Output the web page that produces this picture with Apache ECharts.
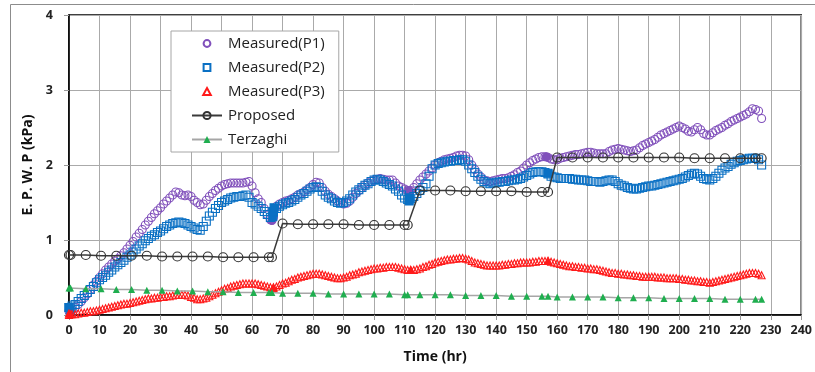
<!DOCTYPE html>
<html>
<head>
<meta charset="utf-8">
<script src="https://cdn.jsdelivr.net/npm/echarts@6/dist/echarts.min.js"></script>
<style>
  html, body { margin: 0; padding: 0; background: #fff; }
  #chart { width: 815px; height: 372px; }
</style>
</head>
<body>
<div id="chart"></div>
<script>
// Measured excess pore water pressure, read hourly
const measuredHours = [
  0, 1, 2, 3, 4, 5, 6, 7, 8, 9,
  10, 11, 12, 13, 14, 15, 16, 17, 18, 19,
  20, 21, 22, 23, 24, 25, 26, 27, 28, 29,
  30, 31, 32, 33, 34, 35, 36, 37, 38, 39,
  40, 41, 42, 43, 44, 45, 46, 47, 48, 49,
  50, 51, 52, 53, 54, 55, 56, 57, 58, 59,
  60, 61, 62, 63, 64, 65, 66, 67, 68, 69,
  70, 71, 72, 73, 74, 75, 76, 77, 78, 79,
  80, 81, 82, 83, 84, 85, 86, 87, 88, 89,
  90, 91, 92, 93, 94, 95, 96, 97, 98, 99,
  100, 101, 102, 103, 104, 105, 106, 107, 108, 109,
  110, 111, 112, 113, 114, 115, 116, 117, 118, 119,
  120, 121, 122, 123, 124, 125, 126, 127, 128, 129,
  130, 131, 132, 133, 134, 135, 136, 137, 138, 139,
  140, 141, 142, 143, 144, 145, 146, 147, 148, 149,
  150, 151, 152, 153, 154, 155, 156, 157, 158, 159,
  160, 161, 162, 163, 164, 165, 166, 167, 168, 169,
  170, 171, 172, 173, 174, 175, 176, 177, 178, 179,
  180, 181, 182, 183, 184, 185, 186, 187, 188, 189,
  190, 191, 192, 193, 194, 195, 196, 197, 198, 199,
  200, 201, 202, 203, 204, 205, 206, 207, 208, 209,
  210, 211, 212, 213, 214, 215, 216, 217, 218, 219,
  220, 221, 222, 223, 224, 225, 226, 227
];

const p1Values = [
  0.05, 0.07, 0.10, 0.14, 0.18, 0.23, 0.28, 0.34, 0.40, 0.45,
  0.50, 0.55, 0.60, 0.64, 0.68, 0.72, 0.75, 0.79, 0.83, 0.88,
  0.93, 0.98, 1.04, 1.09, 1.14, 1.20, 1.25, 1.30, 1.35, 1.39,
  1.43, 1.48, 1.52, 1.56, 1.60, 1.64, 1.63, 1.60, 1.59, 1.60,
  1.58, 1.53, 1.50, 1.47, 1.48, 1.53, 1.58, 1.62, 1.66, 1.69,
  1.72, 1.74, 1.75, 1.76, 1.76, 1.76, 1.76, 1.76, 1.77, 1.78,
  1.72, 1.63, 1.55, 1.50, 1.42, 1.34, 1.27, 1.30, 1.45, 1.48,
  1.50, 1.52, 1.53, 1.55, 1.57, 1.60, 1.62, 1.64, 1.67, 1.70,
  1.74, 1.77, 1.76, 1.70, 1.65, 1.61, 1.58, 1.55, 1.52, 1.50,
  1.48, 1.49, 1.52, 1.57, 1.62, 1.66, 1.70, 1.73, 1.76, 1.78,
  1.80, 1.81, 1.82, 1.81, 1.80, 1.80, 1.80, 1.76, 1.72, 1.70,
  1.68, 1.66, 1.66, 1.70, 1.75, 1.80, 1.84, 1.88, 1.92, 1.96,
  2.00, 2.03, 2.05, 2.07, 2.08, 2.09, 2.10, 2.12, 2.13, 2.13,
  2.12, 2.07, 2.00, 1.94, 1.88, 1.84, 1.80, 1.79, 1.78, 1.79,
  1.80, 1.81, 1.82, 1.82, 1.83, 1.85, 1.87, 1.90, 1.92, 1.96,
  2.00, 2.03, 2.06, 2.08, 2.10, 2.11, 2.11, 2.10, 2.08, 2.07,
  2.07, 2.09, 2.10, 2.11, 2.12, 2.13, 2.14, 2.14, 2.15, 2.16,
  2.17, 2.17, 2.16, 2.15, 2.15, 2.15, 2.15, 2.18, 2.20, 2.21,
  2.22, 2.21, 2.20, 2.19, 2.18, 2.19, 2.20, 2.23, 2.26, 2.28,
  2.30, 2.32, 2.34, 2.37, 2.40, 2.42, 2.44, 2.46, 2.48, 2.50,
  2.52, 2.50, 2.48, 2.45, 2.44, 2.47, 2.50, 2.47, 2.42, 2.40,
  2.40, 2.43, 2.46, 2.48, 2.50, 2.53, 2.55, 2.58, 2.60, 2.62,
  2.64, 2.66, 2.68, 2.71, 2.75, 2.74, 2.72, 2.62
];

const p2Values = [
  0.10, 0.12, 0.14, 0.18, 0.22, 0.26, 0.30, 0.34, 0.38, 0.43,
  0.47, 0.50, 0.53, 0.57, 0.60, 0.64, 0.67, 0.70, 0.73, 0.77,
  0.80, 0.84, 0.88, 0.92, 0.95, 0.99, 1.02, 1.05, 1.07, 1.10,
  1.12, 1.15, 1.18, 1.20, 1.22, 1.23, 1.24, 1.23, 1.22, 1.20,
  1.18, 1.16, 1.14, 1.13, 1.18, 1.25, 1.32, 1.37, 1.42, 1.46,
  1.50, 1.52, 1.54, 1.56, 1.57, 1.58, 1.58, 1.59, 1.60, 1.57,
  1.50, 1.48, 1.45, 1.42, 1.38, 1.34, 1.30, 1.38, 1.42, 1.45,
  1.47, 1.49, 1.50, 1.52, 1.54, 1.57, 1.60, 1.62, 1.65, 1.68,
  1.70, 1.71, 1.70, 1.65, 1.60, 1.57, 1.55, 1.52, 1.50, 1.49,
  1.50, 1.52, 1.55, 1.60, 1.64, 1.67, 1.70, 1.73, 1.75, 1.78,
  1.80, 1.81, 1.80, 1.78, 1.76, 1.74, 1.72, 1.68, 1.65, 1.60,
  1.56, 1.54, 1.55, 1.58, 1.62, 1.66, 1.70, 1.75, 1.85, 1.95,
  2.00, 2.02, 2.03, 2.04, 2.05, 2.05, 2.06, 2.06, 2.07, 2.07,
  2.05, 2.00, 1.95, 1.90, 1.85, 1.81, 1.78, 1.76, 1.75, 1.76,
  1.77, 1.77, 1.78, 1.78, 1.79, 1.80, 1.80, 1.81, 1.82, 1.84,
  1.86, 1.88, 1.90, 1.91, 1.91, 1.91, 1.90, 1.88, 1.85, 1.84,
  1.83, 1.82, 1.82, 1.82, 1.82, 1.81, 1.81, 1.80, 1.80, 1.80,
  1.79, 1.78, 1.78, 1.78, 1.77, 1.78, 1.79, 1.80, 1.80, 1.78,
  1.75, 1.73, 1.72, 1.70, 1.69, 1.68, 1.68, 1.69, 1.70, 1.71,
  1.72, 1.72, 1.73, 1.74, 1.75, 1.76, 1.77, 1.78, 1.79, 1.80,
  1.81, 1.82, 1.84, 1.86, 1.88, 1.89, 1.88, 1.85, 1.82, 1.81,
  1.80, 1.82, 1.85, 1.89, 1.93, 1.96, 1.98, 2.01, 2.03, 2.05,
  2.06, 2.07, 2.08, 2.09, 2.09, 2.09, 2.07, 2.00
];

const p3Values = [
  0.00, 0.01, 0.01, 0.02, 0.03, 0.03, 0.04, 0.05, 0.05, 0.06,
  0.07, 0.08, 0.09, 0.10, 0.11, 0.12, 0.13, 0.14, 0.15, 0.15,
  0.16, 0.17, 0.18, 0.19, 0.20, 0.21, 0.22, 0.22, 0.23, 0.23,
  0.24, 0.24, 0.25, 0.25, 0.26, 0.27, 0.27, 0.27, 0.27, 0.26,
  0.24, 0.23, 0.21, 0.21, 0.22, 0.23, 0.25, 0.27, 0.29, 0.31,
  0.33, 0.35, 0.36, 0.38, 0.39, 0.40, 0.41, 0.42, 0.42, 0.42,
  0.42, 0.42, 0.41, 0.40, 0.39, 0.38, 0.37, 0.37, 0.38, 0.40,
  0.42, 0.43, 0.45, 0.47, 0.48, 0.50, 0.51, 0.52, 0.53, 0.54,
  0.55, 0.55, 0.55, 0.54, 0.53, 0.52, 0.51, 0.50, 0.49, 0.49,
  0.50, 0.51, 0.53, 0.54, 0.55, 0.57, 0.58, 0.59, 0.60, 0.61,
  0.62, 0.62, 0.63, 0.63, 0.64, 0.64, 0.64, 0.64, 0.63, 0.62,
  0.61, 0.60, 0.60, 0.60, 0.61, 0.62, 0.64, 0.65, 0.67, 0.68,
  0.70, 0.71, 0.72, 0.73, 0.74, 0.74, 0.75, 0.75, 0.76, 0.76,
  0.75, 0.74, 0.72, 0.70, 0.69, 0.68, 0.67, 0.66, 0.66, 0.66,
  0.66, 0.66, 0.67, 0.67, 0.68, 0.68, 0.69, 0.69, 0.70, 0.70,
  0.70, 0.70, 0.71, 0.71, 0.72, 0.72, 0.72, 0.72, 0.71, 0.70,
  0.69, 0.68, 0.67, 0.66, 0.65, 0.65, 0.64, 0.64, 0.63, 0.63,
  0.62, 0.62, 0.61, 0.61, 0.60, 0.59, 0.58, 0.57, 0.56, 0.56,
  0.55, 0.55, 0.54, 0.54, 0.53, 0.53, 0.52, 0.52, 0.51, 0.51,
  0.51, 0.51, 0.51, 0.50, 0.50, 0.50, 0.49, 0.49, 0.49, 0.49,
  0.48, 0.48, 0.47, 0.47, 0.46, 0.46, 0.45, 0.45, 0.44, 0.44,
  0.43, 0.44, 0.45, 0.46, 0.47, 0.48, 0.49, 0.50, 0.51, 0.52,
  0.53, 0.54, 0.55, 0.56, 0.56, 0.56, 0.55, 0.53
];

// Dense readings taken right after each loading stage (drawn filled)
const p1Dense = [[66.5, 1.26], [111.5, 1.66], [156.5, 2.11]];
const p2Dense = [[0, 0.10], [0.4, 0.06], [66.8, 1.31], [67.0, 1.37], [67.2, 1.43], [111.5, 1.52], [111.6, 1.56], [157, 1.89]];
const p3Dense = [[0, 0.02], [0.5, 0.01], [67, 0.36], [112, 0.60], [157, 0.72]];

// Predicted curves
const modelHours = [
  0, 0.5, 5.5, 10.5, 15.5, 20.5, 25.5, 30.5, 35.5, 40.5, 45.5, 50.5, 55.5, 60.5, 65.5, 66.5,
  70, 75, 80, 85, 90, 95, 100, 105, 110, 111,
  115, 120, 125, 130, 135, 140, 145, 150, 155, 157,
  160, 165, 170, 175, 180, 185, 190, 195, 200, 205, 210, 215, 220, 225, 227
];
const proposedValues = [
  0.80, 0.80, 0.80, 0.79, 0.79, 0.79, 0.79, 0.78, 0.78, 0.78, 0.78, 0.77, 0.77, 0.77, 0.77, 0.77,
  1.22, 1.21, 1.21, 1.21, 1.21, 1.20, 1.20, 1.20, 1.20, 1.20,
  1.66, 1.66, 1.66, 1.65, 1.65, 1.65, 1.65, 1.64, 1.64, 1.64,
  2.10, 2.10, 2.10, 2.10, 2.10, 2.10, 2.10, 2.10, 2.10, 2.09, 2.09, 2.09, 2.09, 2.09, 2.09
];
const terzaghiValues = [
  0.36, 0.36, 0.35, 0.35, 0.34, 0.34, 0.33, 0.33, 0.32, 0.32, 0.31, 0.31, 0.30, 0.30, 0.30, 0.30,
  0.29, 0.29, 0.29, 0.28, 0.28, 0.28, 0.28, 0.28, 0.27, 0.27,
  0.27, 0.27, 0.27, 0.26, 0.26, 0.26, 0.25, 0.25, 0.25, 0.25,
  0.24, 0.24, 0.24, 0.24, 0.23, 0.23, 0.23, 0.22, 0.22, 0.22, 0.22, 0.21, 0.21, 0.21, 0.21
];

const seriesNames = ['Measured(P1)', 'Measured(P2)', 'Measured(P3)', 'Proposed', 'Terzaghi'];

const PURPLE = '#8050bb';
const BLUE = '#0a70c4';
const RED = '#ff1a1a';
const FONT = '"Open Sans"';

// Legend glyphs padded to the 30x9 legend slot so they keep their own, smaller shape
const ICON_CIRCLE = 'path://M0,0M30,9M18.4,4.5A3.4,3.4,0,1,1,11.6,4.5A3.4,3.4,0,1,1,18.4,4.5Z';
const ICON_SQUARE = 'path://M0,0M30,9M11.6,1.1L18.4,1.1L18.4,7.9L11.6,7.9Z';
const ICON_TRIANGLE = 'path://M0,0M30,9M15,1L18.8,8L11.2,8Z';

function zip(xs, ys) { return xs.map((x, i) => [x, ys[i]]); }
function withDense(pairs, dense, color) {
  return pairs.concat(dense.map(d => ({ value: d, itemStyle: { color: color, borderColor: color } })));
}

function measured(name, symbol, size, color, values, dense) {
  return {
    name: name,
    type: 'scatter',
    symbol: symbol,
    symbolSize: size,
    itemStyle: { color: 'rgba(255,255,255,0)', borderColor: color, borderWidth: 1.1, opacity: 1 },
    emphasis: { disabled: true },
    data: withDense(zip(measuredHours, values), dense, color)
  };
}

const chart = echarts.init(document.getElementById('chart'), null, { renderer: 'canvas' });
chart.setOption({
  animation: false,
  backgroundColor: '#fff',
  textStyle: { fontFamily: FONT },
  graphic: [{
    type: 'rect',
    left: 8, top: 2,
    shape: { width: 900, height: 500 },
    style: { fill: 'none', stroke: '#8c8c8c', lineWidth: 1 },
    silent: true, z: -10
  }],
  grid: {
    left: 69, right: 8, top: 15, bottom: 57,
    show: true, borderColor: '#000', borderWidth: 1.5, backgroundColor: 'transparent'
  },
  legend: {
    data: [
      { name: seriesNames[0], icon: ICON_CIRCLE },
      { name: seriesNames[1], icon: ICON_SQUARE },
      { name: seriesNames[2], icon: ICON_TRIANGLE },
      { name: seriesNames[3] },
      { name: seriesNames[4] }
    ],
    orient: 'vertical',
    left: 171, top: 31,
    padding: [5, 14, 5, 20],
    itemWidth: 30, itemHeight: 9,
    itemGap: 9,
    backgroundColor: '#fff',
    borderColor: '#a6a6a6', borderWidth: 1,
    textStyle: { fontFamily: FONT, fontSize: 15, color: '#222', padding: [0, 0, 0, 1] },
    selectedMode: false
  },
  xAxis: {
    type: 'value',
    min: 0, max: 240, interval: 10,
    name: 'Time (hr)',
    nameLocation: 'middle',
    nameGap: 35,
    nameTextStyle: { fontFamily: FONT, fontSize: 14, fontWeight: 'bold', color: '#111' },
    axisLine: { show: true, lineStyle: { color: '#000', width: 1.5 } },
    axisTick: { show: true, length: 5, lineStyle: { color: '#999' } },
    axisLabel: { fontFamily: FONT, fontSize: 12.5, fontWeight: 'bold', color: '#222', margin: 9 },
    splitLine: { show: true, lineStyle: { color: '#aaa', width: 1 } }
  },
  yAxis: {
    type: 'value',
    min: 0, max: 4, interval: 1,
    name: 'E. P. W. P (kPa)',
    nameLocation: 'middle',
    nameGap: 27,
    nameTextStyle: { fontFamily: FONT, fontSize: 14, fontWeight: 'bold', color: '#111' },
    axisLine: { show: true, lineStyle: { color: '#000', width: 1.5 } },
    axisTick: { show: true, length: 5, lineStyle: { color: '#999' } },
    axisLabel: { fontFamily: FONT, fontSize: 12.5, fontWeight: 'bold', color: '#222', margin: 16 },
    splitLine: { show: true, lineStyle: { color: '#aaa', width: 1 } }
  },
  series: [
    measured(seriesNames[0], 'circle', 8, PURPLE, p1Values, p1Dense),
    measured(seriesNames[1], 'rect', 8, BLUE, p2Values, p2Dense),
    measured(seriesNames[2], 'triangle', 7, RED, p3Values, p3Dense),
    {
      name: seriesNames[3],
      type: 'line',
      symbol: 'circle',
      symbolSize: 9,
      showAllSymbol: true,
      itemStyle: { color: 'rgba(255,255,255,0)', borderColor: '#333', borderWidth: 1.2 },
      lineStyle: { color: '#3a3a3a', width: 1.5 },
      emphasis: { disabled: true },
      data: zip(modelHours, proposedValues)
    },
    {
      name: seriesNames[4],
      type: 'line',
      symbol: 'triangle',
      symbolSize: 7,
      showAllSymbol: true,
      itemStyle: { color: '#1fae4f', borderColor: '#1fae4f', borderWidth: 0 },
      lineStyle: { color: '#a6a6a6', width: 1.5 },
      emphasis: { disabled: true },
      data: zip(modelHours, terzaghiValues)
    }
  ]
});
</script>
</body>
</html>
